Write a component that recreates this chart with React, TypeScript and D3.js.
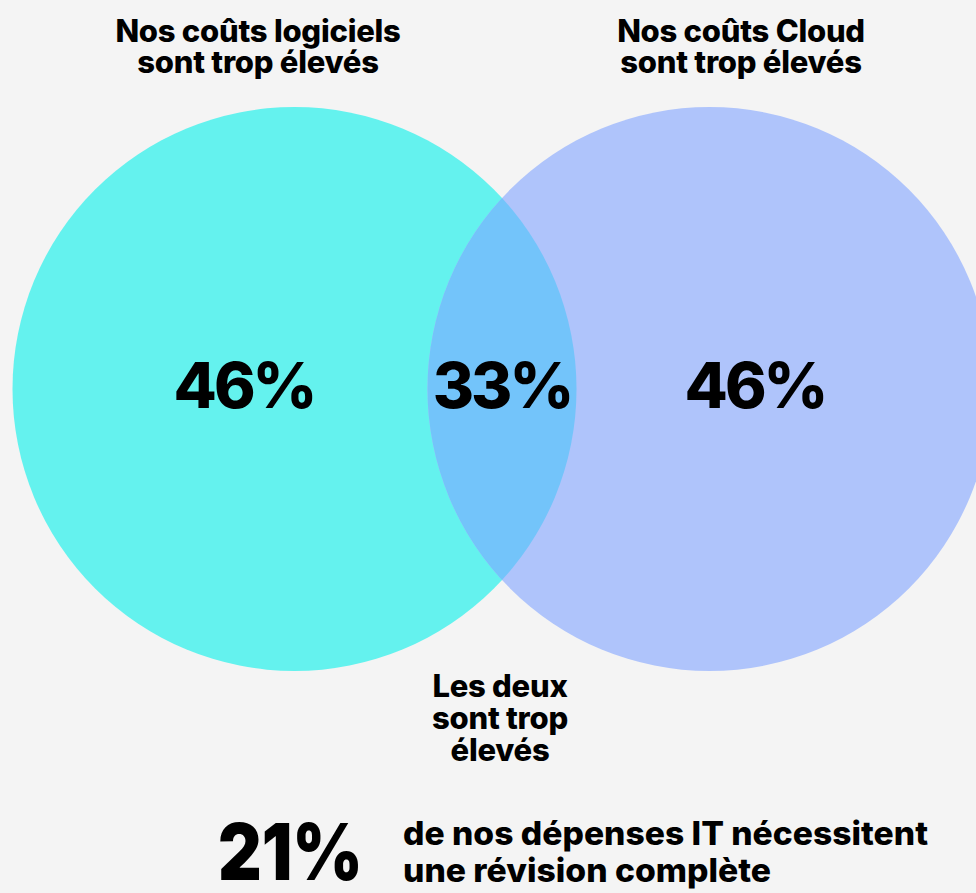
import React from "react";
import * as d3 from "d3";

const setNames = ["logiciels", "Cloud"];
const setTitles = [
  ["Nos coûts logiciels", "sont trop élevés"],
  ["Nos coûts Cloud", "sont trop élevés"],
];
const setValues = [46, 46];
const overlapValue = 33;
const overlapLabel = ["Les deux", "sont trop", "élevés"];
const footValue = 21;
const footLines = ["de nos dépenses IT nécessitent", "une révision complète"];
const colors = ["#64F2EE", "#AFC4FB"];
const overlapColor = "#73C4FA";

const W = 976;
const H = 893;

export default function App() {
  const x = d3.scaleLinear().domain([0, 1]).range([294.5, 709.5]);
  const cy = 389;
  const r = 282;
  const circles = setNames.map((n, i) => ({ name: n, cx: x(i), cy, r, color: colors[i] }));
  const font = "Inter, 'Noto Sans', sans-serif";
  const labelX = [244, 755];
  const titleX = [258, 741];

  return (
    <svg
      width={W}
      height={H}
      style={{ position: "absolute", left: 0, top: 0, background: "#f4f4f4" }}
      fontFamily={font}
    >
      <rect x={0} y={0} width={W} height={H} fill="#f4f4f4" />
      <defs>
        <clipPath id="clipL">
          <circle cx={circles[0].cx} cy={circles[0].cy} r={circles[0].r} />
        </clipPath>
      </defs>
      {circles.map((c) => (
        <circle key={c.name} cx={c.cx} cy={c.cy} r={c.r} fill={c.color} />
      ))}
      <circle
        cx={circles[1].cx}
        cy={circles[1].cy}
        r={circles[1].r}
        fill={overlapColor}
        clipPath="url(#clipL)"
      />
      {setTitles.map((lines, i) =>
        lines.map((t, j) => (
          <text
            key={`t${i}${j}`}
            x={titleX[i]}
            y={42 + j * 31}
            textAnchor="middle"
            fontSize={31}
            fontWeight={800}
            letterSpacing={-0.25}
            fill="#000"
          >
            {t}
          </text>
        ))
      )}
      {setValues.map((v, i) => (
        <text
          key={`v${i}`}
          x={labelX[i]}
          y={408}
          textAnchor="middle"
          fontSize={63}
          fontWeight={800}
          letterSpacing={-3}
          fill="#000"
        >
          {v}%
        </text>
      ))}
      <text
        x={(circles[0].cx + circles[1].cx) / 2}
        y={408}
        textAnchor="middle"
        fontSize={63}
        fontWeight={800}
        letterSpacing={-3}
        fill="#000"
      >
        {overlapValue}%
      </text>
      {overlapLabel.map((t, j) => (
        <text
          key={`o${j}`}
          x={500}
          y={697 + j * 32}
          textAnchor="middle"
          fontSize={31}
          fontWeight={800}
          letterSpacing={-0.25}
          fill="#000"
        >
          {t}
        </text>
      ))}
      <text
        x={218}
        y={880}
        fontSize={78}
        fontWeight={900}
        fill="#000"
        textLength={145}
        lengthAdjust="spacingAndGlyphs"
      >
        {footValue}%
      </text>
      {footLines.map((t, j) => (
        <text
          key={`f${j}`}
          x={403}
          y={845 + j * 37}
          fontSize={33}
          fontWeight={800}
          fill="#000"
          textLength={j === 0 ? 525 : 368}
          lengthAdjust="spacingAndGlyphs"
        >
          {t}
        </text>
      ))}
    </svg>
  );
}
